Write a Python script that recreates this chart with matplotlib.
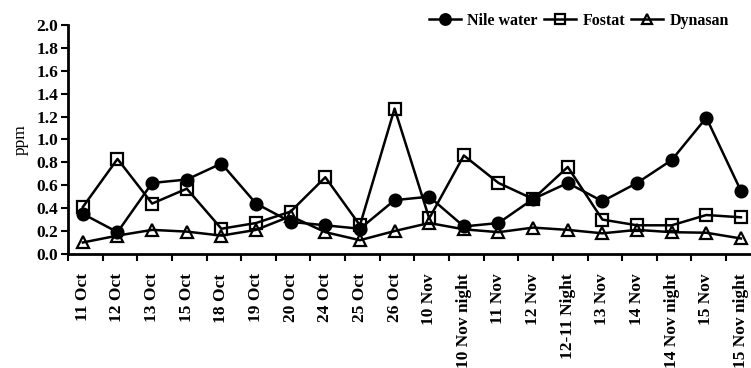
import matplotlib
matplotlib.use("Agg")
import matplotlib.pyplot as plt
import numpy as np

# dates of sampling
dates = ["11 Oct", "12 Oct", "13 Oct", "15 Oct", "18 Oct", "19 Oct", "20 Oct",
         "24 Oct", "25 Oct", "26 Oct", "10 Nov", "10 Nov night", "11 Nov",
         "12 Nov", "12-11 Night", "13 Nov", "14 Nov", "14 Nov night",
         "15 Nov", "15 Nov night"]

# ppm values
nile_water = [0.35, 0.19, 0.62, 0.65, 0.79, 0.44, 0.28, 0.25, 0.22, 0.47,
              0.50, 0.24, 0.27, 0.48, 0.62, 0.46, 0.62, 0.82, 1.19, 0.55]
fostat = [0.41, 0.83, 0.44, 0.57, 0.22, 0.27, 0.37, 0.67, 0.25, 1.27,
          0.31, 0.86, 0.62, 0.48, 0.76, 0.30, 0.25, 0.25, 0.34, 0.32]
dynasan = [0.10, 0.16, 0.21, 0.195, 0.16, 0.21, 0.33, 0.19, 0.12, 0.20,
           0.27, 0.215, 0.19, 0.23, 0.21, 0.18, 0.21, 0.19, 0.185, 0.135]

plt.rcParams["font.family"] = "Liberation Serif"
plt.rcParams["font.weight"] = "bold"

fig = plt.figure(figsize=(7.51, 3.68), dpi=100)
ax = fig.add_axes([0.0905, 0.31, 0.9095, 0.622])

x = np.arange(len(dates))
style = dict(color="black", linewidth=1.8, markersize=8.5, markeredgewidth=1.6)
ax.plot(x, nile_water, marker="o", label="Nile water", **style)
ax.plot(x, fostat, marker="s", markerfacecolor="none", label="Fostat", **style)
ax.plot(x, dynasan, marker="^", markerfacecolor="none", label="Dynasan", **style)

# the original plot runs past the right edge of the picture
ax.set_xlim(-0.43, 19.29)
ax.set_ylim(0, 2.0)
ax.set_yticks(np.arange(0, 2.01, 0.2))
ax.set_yticklabels([f"{v:.1f}" for v in np.arange(0, 2.01, 0.2)], fontsize=12.5)
ax.set_xticks(x)
ax.set_xticklabels(dates, rotation=90, fontsize=12.5)
ax.set_xticks(x - 0.43, minor=True)
ax.tick_params(axis="x", which="major", length=0, pad=14)
ax.tick_params(axis="x", which="minor", length=5, width=1.5, direction="out")
ax.tick_params(axis="y", length=5, width=1.5, direction="out", pad=2)
ax.set_ylabel("ppm", fontsize=12.5)
ax.yaxis.set_label_coords(-0.058, 0.5)

for s in ["top", "right"]:
    ax.spines[s].set_visible(False)
for s in ["left", "bottom"]:
    ax.spines[s].set_linewidth(2)

fig.legend(loc="upper right", bbox_to_anchor=(0.99, 1.005), ncol=3, frameon=False,
           fontsize=11.5, handlelength=2.0, columnspacing=0.4, handletextpad=0.4,
           markerscale=0.9)

fig.savefig("out.png", dpi=100)
